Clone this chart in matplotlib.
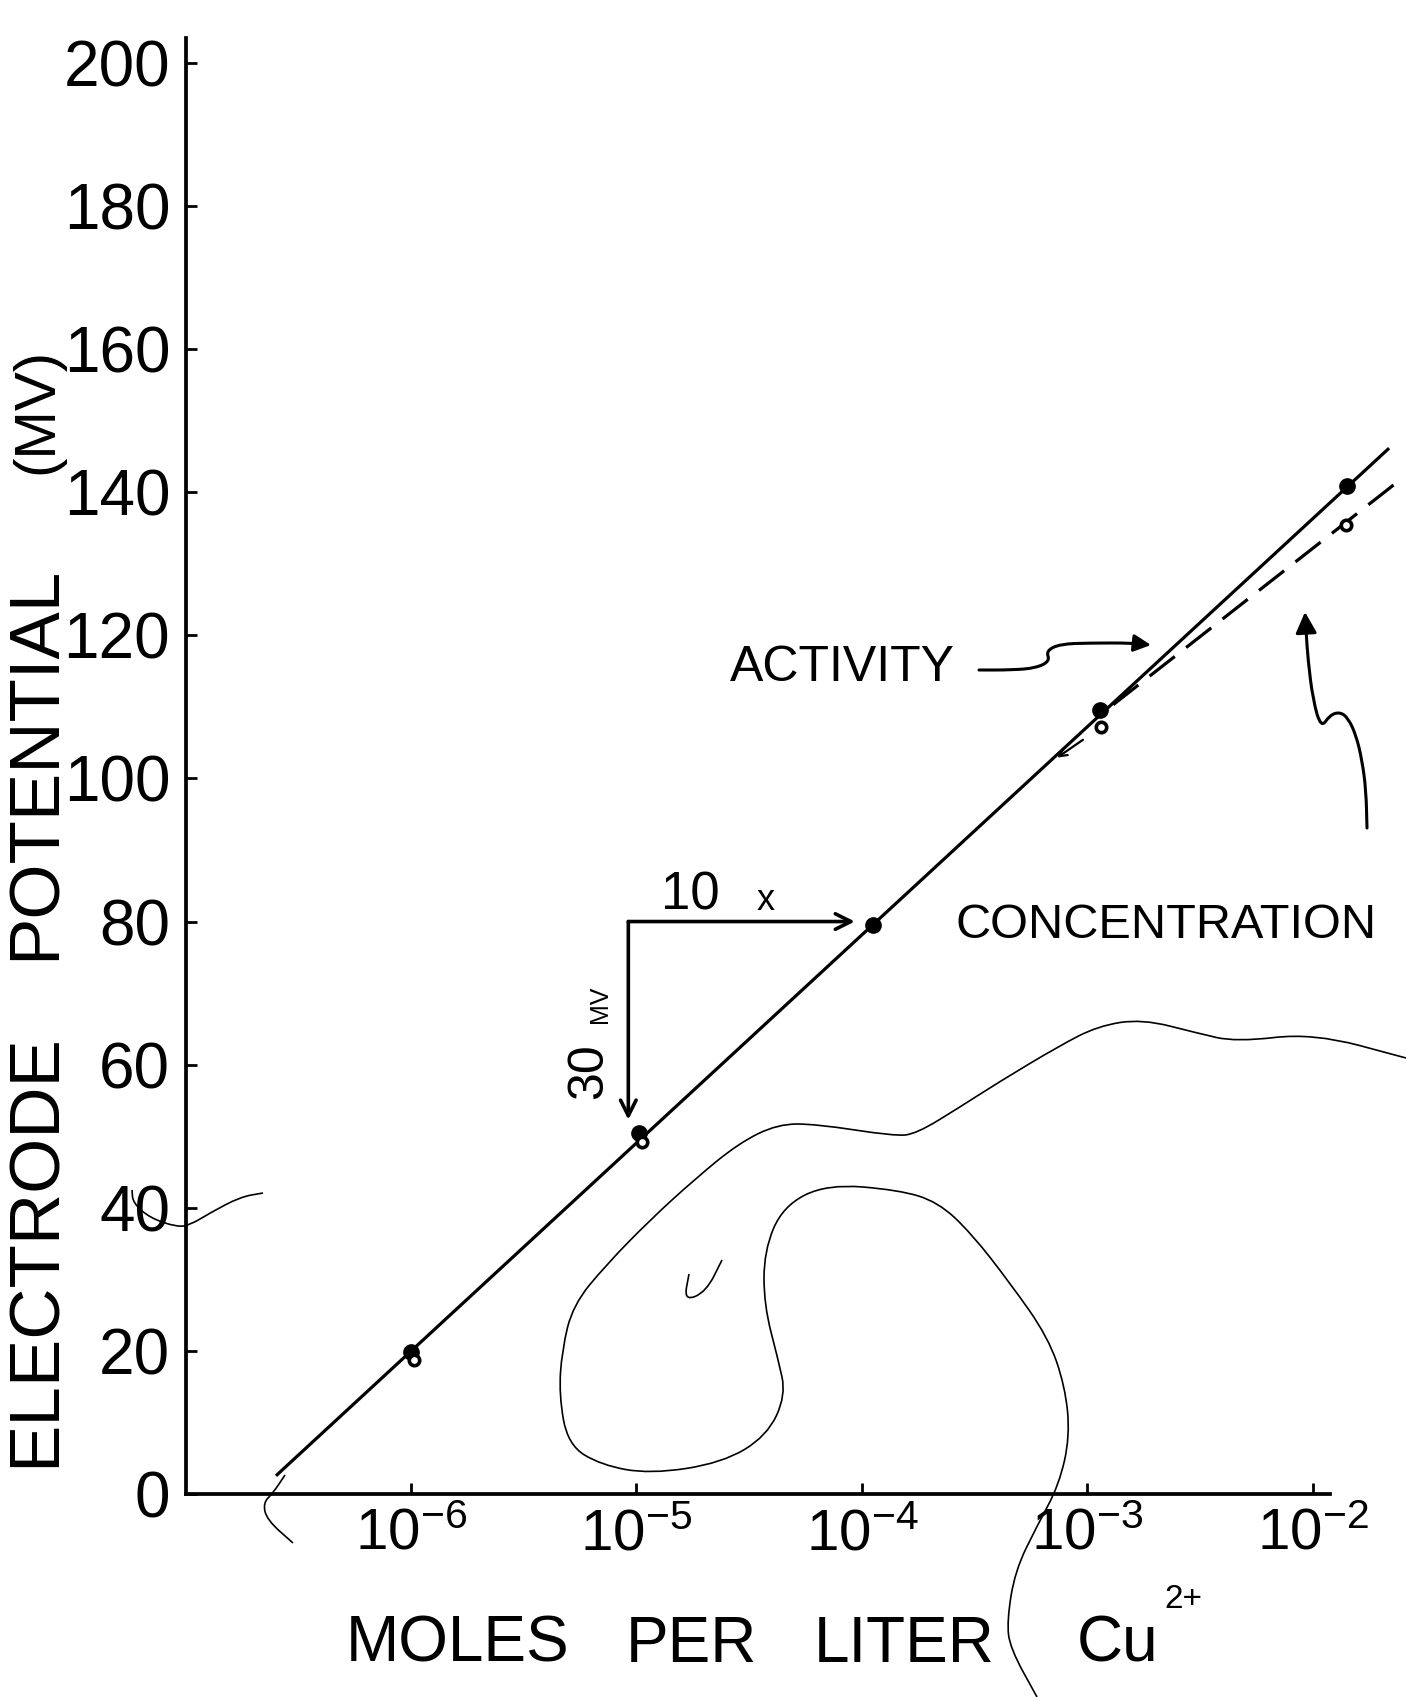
import matplotlib
matplotlib.use("Agg")
import matplotlib.pyplot as plt
from matplotlib.path import Path
from matplotlib.patches import FancyArrowPatch, PathPatch
from matplotlib.transforms import Affine2D
from matplotlib.ticker import NullLocator

W, H = 1406, 1697

plt.rcParams["font.family"] = ["Liberation Sans", "DejaVu Sans"]
plt.rcParams["mathtext.fontset"] = "custom"
plt.rcParams["mathtext.rm"] = "Liberation Sans"
plt.rcParams["mathtext.it"] = "Liberation Sans"
plt.rcParams["mathtext.default"] = "regular"

# Cu2+ electrode readings (mV) vs moles per liter
activity_conc = [1.0e-6, 1.03e-5, 1.12e-4, 1.14e-3, 1.42e-2]
activity_mv = [19.8, 50.4, 79.5, 109.6, 140.9]
conc_conc = [1.03e-6, 1.06e-5, 1.15e-3, 1.40e-2]
conc_mv = [18.7, 49.2, 107.2, 135.4]

# drawn lines through the points
activity_fit_x = [2.55e-7, 2.15e-2]
activity_fit_y = [2.7, 146.0]
conc_fit_x = [1.30e-3, 2.43e-2]
conc_fit_y = [110.3, 141.7]

# slope triangle: one decade -> 30 mV
slope_x = [9.2e-6, 9.3e-5]
slope_y = [80.0, 52.3]

x_ticks = [1e-6, 1e-5, 1e-4, 1e-3, 1e-2]
x_ticklabels = [r"$10^{-6}$", r"$10^{-5}$", r"$10^{-4}$", r"$10^{-3}$", r"$10^{-2}$"]
y_ticks = [0, 20, 40, 60, 80, 100, 120, 140, 160, 180, 200]
y_ticklabels = ["0", "20", "40", "60", "80", "100", "120", "140", "160", "180", "200"]

# hand-drawn pointer strokes (figure pixels)
activity_pointer = [(979, 670), (1012, 670), (1036, 668), (1050, 661), (1046, 651),
                    (1060, 644), (1090, 643), (1133, 643), (1151, 645)]
conc_pointer = [(1367, 828), (1366, 790), (1362, 760), (1356, 735), (1348, 718),
                (1340, 712), (1330, 715), (1321, 728), (1313, 700), (1308, 660),
                (1306, 630), (1305, 612)]

# faint strokes showing through from the back of the sheet
bleed_strokes = [
    [(1406, 1058), (1313, 1033), (1236, 1042), (1197, 1033), (1142, 1019), (1098, 1026),
     (1059, 1046), (999, 1082), (960, 1107), (916, 1134), (894, 1136), (816, 1124),
     (778, 1124), (739, 1143), (695, 1179), (650, 1220), (606, 1265), (573, 1305),
     (562, 1350), (559, 1395), (568, 1445), (601, 1465), (650, 1474), (722, 1463),
     (767, 1436), (786, 1395), (778, 1359), (764, 1305), (764, 1251), (783, 1206),
     (827, 1184), (899, 1190), (938, 1202), (971, 1233), (1010, 1283), (1048, 1337),
     (1065, 1386), (1070, 1436), (1059, 1485), (1037, 1526), (1015, 1571),
     (1007, 1621), (1010, 1648), (1037, 1697)],
    [(263, 1193), (240, 1197), (210, 1213), (190, 1225), (177, 1227), (150, 1218),
     (133, 1203), (132, 1190)],
    [(285, 1475), (273, 1493), (263, 1503), (267, 1520), (293, 1543)],
    [(722, 1260), (706, 1292), (684, 1301), (689, 1274)],
]


def smooth_path(pts):
    # quadratic Bezier through the midpoints of the traced polyline
    verts = [pts[0]]
    codes = [Path.MOVETO]
    if len(pts) > 2:
        mids = [((a[0] + b[0]) / 2, (a[1] + b[1]) / 2) for a, b in zip(pts[:-1], pts[1:])]
        verts.append(mids[0])
        codes.append(Path.LINETO)
        for ctrl, end in zip(pts[1:-1], mids[1:]):
            verts += [ctrl, end]
            codes += [Path.CURVE3, Path.CURVE3]
    verts.append(pts[-1])
    codes.append(Path.LINETO)
    return Path(verts, codes)


fig = plt.figure(figsize=(W / 100, H / 100), dpi=100)
px = Affine2D().scale(1 / W, -1 / H).translate(0, 1) + fig.transFigure

ax = fig.add_axes([185.5 / W, (H - 1494) / H, (1330 - 185.5) / W, (1494 - 37.8) / H])
ax.set_xscale("log")
ax.set_xlim(1e-7, 1.19e-2)
ax.set_ylim(0, 203.5)
for side in ("top", "right"):
    ax.spines[side].set_visible(False)
for side in ("left", "bottom"):
    ax.spines[side].set_linewidth(2.7)

ax.set_xticks(x_ticks, x_ticklabels)
ax.xaxis.set_minor_locator(NullLocator())
ax.set_yticks(y_ticks, y_ticklabels)
ax.tick_params(axis="both", direction="in", length=8, width=2)
ax.tick_params(axis="x", labelsize=42, pad=10)
ax.tick_params(axis="y", labelsize=46, pad=11)

ax.plot(activity_fit_x, activity_fit_y, color="black", lw=2.3, clip_on=False)
ax.plot(conc_fit_x, conc_fit_y, color="black", lw=2.3, dashes=(10, 4.5), clip_on=False)
ax.plot(activity_conc, activity_mv, "o", ms=11, color="black", clip_on=False, zorder=3)
ax.plot(conc_conc, conc_mv, "o", ms=7.5, mfc="white", mec="black", mew=2.6,
        clip_on=False, zorder=4)

arrow_kw = dict(arrowstyle="->", lw=2.6, color="black", mutation_scale=28,
                shrinkA=0, shrinkB=0)
ax.annotate("", xy=(slope_x[1], slope_y[0]), xytext=(slope_x[0], slope_y[0]),
            arrowprops=arrow_kw)
ax.annotate("", xy=(slope_x[0], slope_y[1]), xytext=(slope_x[0], slope_y[0]),
            arrowprops=arrow_kw)
# small tick where the dashed line leaves the solid one
ax.annotate("", xy=(7.33e-4, 102.9), xytext=(9.55e-4, 105.4),
            arrowprops=dict(arrowstyle="->", lw=1.6, color="black",
                            mutation_scale=14, shrinkA=0, shrinkB=0))

for pts, ms in ((activity_pointer, 26), (conc_pointer, 32)):
    fig.add_artist(FancyArrowPatch(path=smooth_path(pts), arrowstyle="-|>",
                                   mutation_scale=ms, lw=2.2, color="black",
                                   transform=px))

for pts in bleed_strokes:
    fig.add_artist(PathPatch(smooth_path(pts), fill=False, lw=1.2, edgecolor="black",
                             transform=px))

# annotations
fig.text(730, 668, "ACTIVITY", transform=px, fontsize=36, ha="left", va="center")
fig.text(955, 925, "CONCENTRATION", transform=px, fontsize=35, ha="left", va="center")
fig.text(690, 896, "10", transform=px, fontsize=38, ha="center", va="center")
fig.text(766, 900, "x", transform=px, fontsize=26, ha="center", va="center")
fig.text(612, 1071, "30", transform=px, fontsize=36, rotation=90,
         ha="right", va="center")
fig.text(612, 1004, "MV", transform=px, fontsize=18, rotation=90, ha="right", va="center")

# axis titles
for word, left in (("MOLES", 346), ("PER", 626), ("LITER", 814), ("Cu", 1077)):
    fig.text(left, 1645, word, transform=px, fontsize=46, ha="left", va="center")
fig.text(1164, 1600, "2+", transform=px, fontsize=24, ha="left", va="center")

fig.text(37, 1250, "ELECTRODE", transform=px, fontsize=51, rotation=90,
         ha="center", va="center")
fig.text(37, 763, "POTENTIAL", transform=px, fontsize=51, rotation=90,
         ha="center", va="center")
fig.text(37, 411, "(MV)", transform=px, fontsize=42, rotation=90,
         ha="center", va="center")

fig.savefig("out.png", dpi=100, facecolor="white")
